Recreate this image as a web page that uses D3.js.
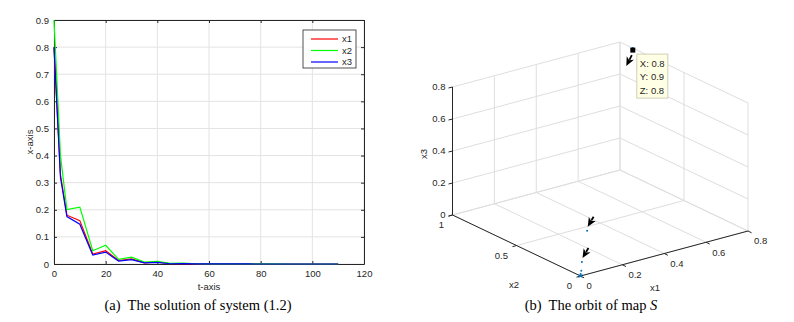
<!DOCTYPE html>
<html>
<head>
<meta charset="utf-8">
<script src="https://cdn.jsdelivr.net/npm/d3@7/dist/d3.min.js"></script>
<style>
body { margin: 0; background: #fff; }
text { font-family: "Liberation Sans", Arial, sans-serif; fill: #1f1f1f; }
.caption { font-family: "Liberation Serif", "Times New Roman", serif; fill: #000; white-space: pre; }
</style>
</head>
<body>
<div id="vis"></div>
<script>
// time samples and the three solution components
var tVals  = [0, 2.5, 5, 10, 15, 20, 25, 30, 35, 40, 45, 50, 55, 60, 65, 70, 75, 80, 85, 90, 95, 100, 105, 110];
var x1Vals = [0.8, 0.33, 0.18, 0.16, 0.037, 0.049, 0.013, 0.019, 0.004, 0.007, 0.001, 0.0015, 0.0004, 0.0004, 0.0002, 0.0002, 0.0001, 0.0001, 0, 0, 0, 0, 0, 0];
var x2Vals = [0.9, 0.40, 0.201, 0.21, 0.049, 0.069, 0.017, 0.025, 0.007, 0.01, 0.002, 0.003, 0.001, 0.0008, 0.0003, 0.0003, 0.0002, 0.0001, 0.0001, 0, 0, 0, 0, 0];
var x3Vals = [0.8, 0.32, 0.175, 0.147, 0.033, 0.044, 0.011, 0.016, 0.004, 0.006, 0.001, 0.0012, 0.0003, 0.0003, 0.0002, 0.0001, 0.0001, 0, 0, 0, 0, 0, 0, 0];
var seriesNames = ['x1', 'x2', 'x3'];
var seriesColors = ['#ff0000', '#00ff00', '#0000ff'];

var tTicks = [0, 20, 40, 60, 80, 100, 120];
var xTicks = [0, 0.1, 0.2, 0.3, 0.4, 0.5, 0.6, 0.7, 0.8, 0.9];

// orbit of map S: every 10th time unit
var orbitStep = 10;
var ticksX1 = [0, 0.2, 0.4, 0.6, 0.8];
var ticksX2 = [0, 0.5, 1];
var ticksX3 = [0, 0.2, 0.4, 0.6, 0.8];

var width = 794, height = 322;
var fs = 9.5;
var svg = d3.select('#vis').append('svg')
    .attr('width', width)
    .attr('height', height);

var fmt = function(d) { return d === 0 ? '0' : d3.format('.1~f')(d); };

// ---------------- (a) time series ----------------
var pLeft = 54, pRight = 364, pTop = 20, pBottom = 264;
var xScale = d3.scaleLinear().domain([0, 120]).range([pLeft, pRight]);
var yScale = d3.scaleLinear().domain([0, 0.9]).range([pBottom, pTop]);

var grid = svg.append('g').attr('stroke', '#e3e3e3').attr('stroke-width', 1);
grid.selectAll('.gx').data(tTicks).enter().append('line')
    .attr('x1', d => xScale(d)).attr('x2', d => xScale(d))
    .attr('y1', pTop).attr('y2', pBottom);
grid.selectAll('.gy').data(xTicks).enter().append('line')
    .attr('x1', pLeft).attr('x2', pRight)
    .attr('y1', d => yScale(d)).attr('y2', d => yScale(d));

var styleAxis = function(g) {
    g.select('.domain').attr('stroke', '#262626');
    g.selectAll('.tick line').attr('stroke', '#262626');
    g.selectAll('.tick text').attr('font-size', fs).attr('fill', '#1f1f1f')
        .attr('font-family', '"Liberation Sans", Arial, sans-serif');
};

svg.append('g').attr('transform', 'translate(0,' + pBottom + ')')
    .call(d3.axisBottom(xScale).tickValues(tTicks).tickSizeInner(-3).tickSizeOuter(0).tickPadding(6))
    .call(styleAxis);
svg.append('g').attr('transform', 'translate(0,' + pTop + ')')
    .call(d3.axisTop(xScale).tickValues(tTicks).tickSizeInner(-3).tickSizeOuter(0).tickFormat(''))
    .call(styleAxis);
svg.append('g').attr('transform', 'translate(' + pLeft + ',0)')
    .call(d3.axisLeft(yScale).tickValues(xTicks).tickSizeInner(-3).tickSizeOuter(0).tickPadding(5).tickFormat(fmt))
    .call(styleAxis);
svg.append('g').attr('transform', 'translate(' + pRight + ',0)')
    .call(d3.axisRight(yScale).tickValues(xTicks).tickSizeInner(-3).tickSizeOuter(0).tickFormat(''))
    .call(styleAxis);

var allSeries = [x1Vals, x2Vals, x3Vals];
var line = d3.line()
    .x((d, i) => xScale(tVals[i]))
    .y(d => yScale(d));

svg.append('g').selectAll('path').data(allSeries).enter().append('path')
    .attr('d', line)
    .attr('fill', 'none')
    .attr('stroke', (d, i) => seriesColors[i])
    .attr('stroke-width', 1.2);

svg.append('text').attr('x', 209).attr('y', 290).attr('text-anchor', 'middle')
    .attr('font-size', fs).text('t-axis');
svg.append('text').attr('transform', 'translate(33,142) rotate(-90)').attr('text-anchor', 'middle')
    .attr('font-size', fs).text('x-axis');

// legend
var legend = svg.append('g').attr('transform', 'translate(303,30)');
legend.append('rect').attr('width', 53).attr('height', 38)
    .attr('fill', '#fff').attr('stroke', '#262626').attr('stroke-width', 0.8);
var items = legend.selectAll('.item').data(seriesNames).enter().append('g')
    .attr('transform', (d, i) => 'translate(0,' + (9 + i * 11.5) + ')');
items.append('line').attr('x1', 8).attr('x2', 35)
    .attr('stroke', (d, i) => seriesColors[i]).attr('stroke-width', 1.2);
items.append('text').attr('x', 39).attr('dy', '0.35em').attr('font-size', fs).text(d => d);

svg.append('text').attr('class', 'caption').attr('x', 198).attr('y', 310)
    .attr('text-anchor', 'middle').attr('font-size', 14.5)
    .text('(a)  The solution of system (1.2)');

// ---------------- (b) orbit in 3-D ----------------
var front = [580.5, 276];
var ux1 = d3.scaleLinear().domain([0, 0.8]).range([0, 167.5]);
var vx1 = d3.scaleLinear().domain([0, 0.8]).range([0, -45]);
var ux2 = d3.scaleLinear().domain([0, 1]).range([0, -128]);
var vx2 = d3.scaleLinear().domain([0, 1]).range([0, -61]);
var vx3 = d3.scaleLinear().domain([0, 0.8]).range([0, -128]);
var proj = function(a, b, c) {
    return [front[0] + ux1(a) + ux2(b), front[1] + vx1(a) + vx2(b) + vx3(c)];
};

var segs = [];
ticksX1.forEach(function(a) {
    segs.push([proj(a, 1, 0), proj(a, 1, 0.8)]);   // back wall verticals
    segs.push([proj(a, 0, 0), proj(a, 1, 0)]);     // floor
});
ticksX2.forEach(function(b) {
    segs.push([proj(0.8, b, 0), proj(0.8, b, 0.8)]); // right wall verticals
    segs.push([proj(0, b, 0), proj(0.8, b, 0)]);     // floor
});
ticksX3.forEach(function(c) {
    segs.push([proj(0, 1, c), proj(0.8, 1, c)]);
    segs.push([proj(0.8, 0, c), proj(0.8, 1, c)]);
});
svg.append('g').selectAll('line').data(segs).enter().append('line')
    .attr('x1', d => d[0][0]).attr('y1', d => d[0][1])
    .attr('x2', d => d[1][0]).attr('y2', d => d[1][1])
    .attr('stroke', '#dedede').attr('stroke-width', 1);

// axis lines
var axes3 = [
    [proj(0, 1, 0), proj(0, 1, 0.8)],
    [proj(0, 0, 0), proj(0, 1, 0)],
    [proj(0, 0, 0), proj(0.8, 0, 0)]
];
svg.append('g').selectAll('line').data(axes3).enter().append('line')
    .attr('x1', d => d[0][0]).attr('y1', d => d[0][1])
    .attr('x2', d => d[1][0]).attr('y2', d => d[1][1])
    .attr('stroke', '#262626').attr('stroke-width', 1);

var tk = svg.append('g').attr('stroke', '#262626').attr('stroke-width', 1);
ticksX3.forEach(function(c) {
    var p = proj(0, 1, c);
    tk.append('line').attr('x1', p[0]).attr('y1', p[1]).attr('x2', p[0] - 4).attr('y2', p[1] + 1);
    svg.append('text').attr('x', p[0] - 7).attr('y', p[1]).attr('dy', '0.35em')
        .attr('text-anchor', 'end').attr('font-size', fs).text(fmt(c));
});
ticksX2.forEach(function(b) {
    var p = proj(0, b, 0);
    tk.append('line').attr('x1', p[0]).attr('y1', p[1]).attr('x2', p[0] - 4).attr('y2', p[1] + 1.2);
    svg.append('text').attr('x', p[0] - 8.5).attr('y', p[1] + 10).attr('dy', '0.35em')
        .attr('text-anchor', 'end').attr('font-size', fs).text(fmt(b));
});
ticksX1.forEach(function(a) {
    var p = proj(a, 0, 0);
    tk.append('line').attr('x1', p[0]).attr('y1', p[1]).attr('x2', p[0] + 3.6).attr('y2', p[1] + 1.8);
    svg.append('text').attr('x', p[0] + 6).attr('y', p[1] + 10).attr('dy', '0.35em')
        .attr('text-anchor', 'start').attr('font-size', fs).text(fmt(a));
});
svg.append('text').attr('x', 514).attr('y', 285).attr('dy', '0.35em').attr('text-anchor', 'middle')
    .attr('font-size', fs).text('x2');
svg.append('text').attr('x', 655).attr('y', 288).attr('dy', '0.35em').attr('text-anchor', 'middle')
    .attr('font-size', fs).text('x1');
svg.append('text').attr('transform', 'translate(427,154) rotate(-90)').attr('text-anchor', 'middle')
    .attr('font-size', fs).text('x3');

// orbit points
var orbit = tVals.map((t, i) => ({ t: t, a: x1Vals[i], b: x2Vals[i], c: x3Vals[i] }))
    .filter(d => d.t % orbitStep === 0);
orbit.forEach(d => { d.p = proj(d.a, d.b, d.c); });

svg.append('g').selectAll('circle').data(orbit).enter().append('circle')
    .attr('cx', d => d.p[0]).attr('cy', d => d.p[1]).attr('r', 1)
    .attr('fill', '#0072bd');
var last = orbit[orbit.length - 1].p;
svg.append('path')
    .attr('d', 'M' + (last[0] - 2) + ',' + (last[1] - 2) + 'l4,4M' + (last[0] + 2) + ',' + (last[1] - 2) + 'l-4,4')
    .attr('stroke', '#0072bd').attr('stroke-width', 0.8);

// data-cursor arrows
var arrow = function(x0, y0, x1, y1) {
    var dx = x1 - x0, dy = y1 - y0, len = Math.sqrt(dx * dx + dy * dy);
    var ux = dx / len, uy = dy / len, hl = 9, hw = 4;
    var bx = x1 - ux * hl, by = y1 - uy * hl;
    svg.append('line').attr('x1', x0).attr('y1', y0).attr('x2', bx + ux * 2).attr('y2', by + uy * 2)
        .attr('stroke', '#000').attr('stroke-width', 1.8);
    svg.append('path')
        .attr('d', 'M' + x1 + ',' + y1 + 'L' + (bx - uy * hw) + ',' + (by + ux * hw) +
            'L' + (bx + ux * 2.5) + ',' + (by + uy * 2.5) +
            'L' + (bx + uy * hw) + ',' + (by - ux * hw) + 'Z')
        .attr('fill', '#000');
};
var p0 = orbit[0].p;
arrow(p0[0] - 1, p0[1] + 7, p0[0] - 6.5, p0[1] + 18);
[orbit[1].p, orbit[2].p].forEach(function(p) {
    arrow(p[0] + 6.5, p[1] - 14, p[0] + 0.6, p[1] - 4);
});
svg.append('rect').attr('x', p0[0] - 2.5).attr('y', p0[1] - 0.5).attr('width', 5).attr('height', 5)
    .attr('fill', '#000');

// tooltip
var tip = svg.append('g').attr('transform', 'translate(' + (p0[0] + 4) + ',' + (p0[1] + 6) + ')');
tip.append('rect').attr('width', 31).attr('height', 44)
    .attr('fill', '#ffffe6').attr('stroke', '#cfcfb8').attr('stroke-width', 1);
var tipLines = ['X: ' + fmt(orbit[0].a), 'Y: ' + fmt(orbit[0].b), 'Z: ' + fmt(orbit[0].c)];
tip.selectAll('text').data(tipLines).enter().append('text')
    .attr('x', 3).attr('y', (d, i) => 9.5 + i * 13.3).attr('dy', '0.35em')
    .attr('font-size', fs).attr('fill', '#000').text(d => d);

var capB = svg.append('text').attr('class', 'caption').attr('x', 591).attr('y', 310)
    .attr('text-anchor', 'middle').attr('font-size', 14.5);
capB.append('tspan').text('(b)  The orbit of map ');
capB.append('tspan').attr('font-style', 'italic').text('S');
</script>
</body>
</html>
